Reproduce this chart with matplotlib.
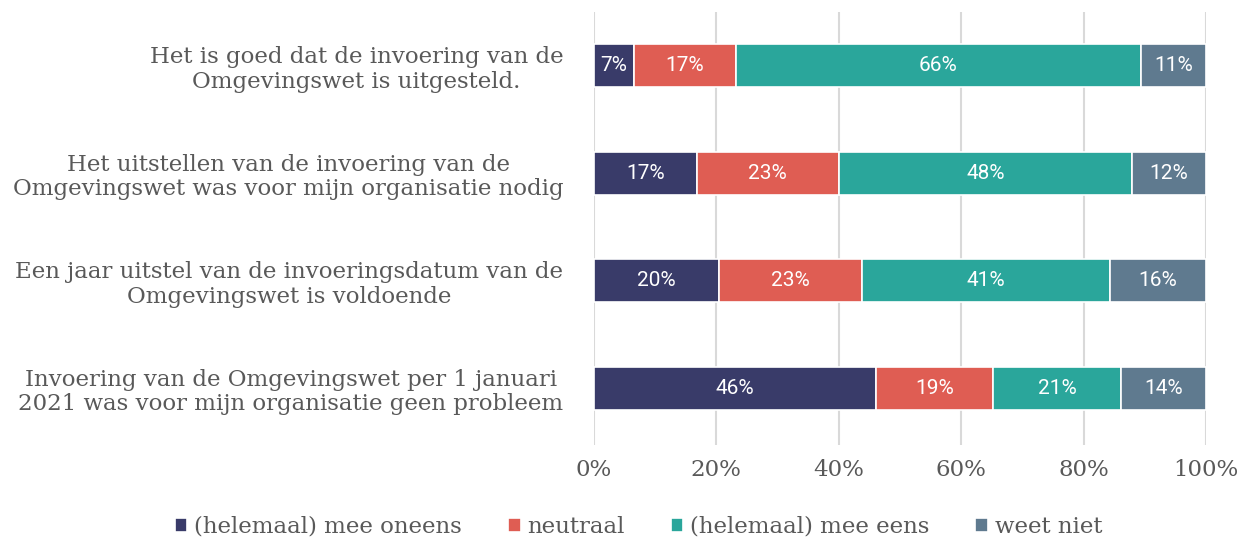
import matplotlib.pyplot as plt
import numpy as np

plt.rcParams['font.family'] = ['DejaVu Serif']

statements = [
    "Het is goed dat de invoering van de\nOmgevingswet is uitgesteld.",
    "Het uitstellen van de invoering van de\nOmgevingswet was voor mijn organisatie nodig",
    "Een jaar uitstel van de invoeringsdatum van de\nOmgevingswet is voldoende",
    "Invoering van de Omgevingswet per 1 januari\n2021 was voor mijn organisatie geen probleem",
]
categories = ["(helemaal) mee oneens", "neutraal", "(helemaal) mee eens", "weet niet"]
oneens = [6.5, 16.8, 20.4, 46.1]
neutraal = [16.7, 23.2, 23.4, 19.1]
eens = [66.2, 47.9, 40.5, 20.9]
weet_niet = [10.6, 12.1, 15.7, 13.9]
labels = [
    ["7%", "17%", "66%", "11%"],
    ["17%", "23%", "48%", "12%"],
    ["20%", "23%", "41%", "16%"],
    ["46%", "19%", "21%", "14%"],
]
colors = ["#393B69", "#DF5D53", "#2AA69B", "#5F7A8F"]

fig = plt.figure(figsize=(12.4, 5.37), dpi=100)
ax = fig.add_axes([0.479, 0.171, 0.4935, 0.807])

y = np.arange(len(statements))
series = [oneens, neutraal, eens, weet_niet]
left = np.zeros(len(statements))
for k, (vals, col, cat) in enumerate(zip(series, colors, categories)):
    vals = np.array(vals)
    ax.barh(y, vals, left=left, height=0.4, color=col, edgecolor='white',
            linewidth=1.2, label=cat, zorder=3)
    for i in range(len(y)):
        ax.text(left[i] + vals[i] / 2, y[i], labels[i][k], ha='center', va='center',
                color='white', fontsize=15, family='Roboto', zorder=4)
    left += vals

ax.set_xlim(0, 100)
ax.set_ylim(3.53, -0.5)
ax.set_xticks(range(0, 101, 20))
ax.set_xticklabels([f"{v}%" for v in range(0, 101, 20)], fontsize=16.5, color='#595959')
ax.set_yticks(y)
ax.set_yticklabels(statements, fontsize=16.5, color='#595959', multialignment='center',
                   linespacing=1.15)
ax.tick_params(axis='both', length=0)
ax.tick_params(axis='x', pad=10)
ax.tick_params(axis='y', pad=22)
for s in ax.spines.values():
    s.set_visible(False)
ax.grid(axis='x', color='#D9D9D9', linewidth=1.5, zorder=0)

leg = fig.legend(loc='lower center', bbox_to_anchor=(0.515, -0.04), ncol=4, frameon=False,
                 fontsize=16.5, handlelength=0.55, handleheight=0.55, handletextpad=0.3,
                 columnspacing=2.0, labelcolor='#595959')

fig.savefig("out.png", dpi=100)
